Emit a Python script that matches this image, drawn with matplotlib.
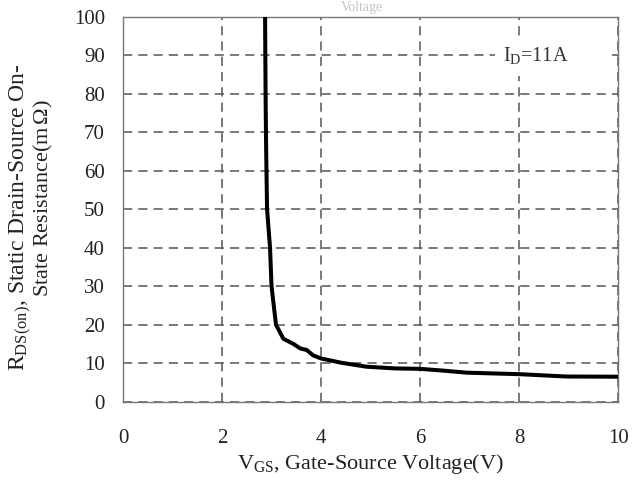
import matplotlib
matplotlib.use("Agg")
import matplotlib.pyplot as plt
from matplotlib.patches import Rectangle

plt.rcParams["font.family"] = ["Liberation Serif", "DejaVu Serif"]
plt.rcParams["mathtext.fontset"] = "custom"
plt.rcParams["mathtext.rm"] = "Liberation Serif"
plt.rcParams["mathtext.it"] = "Liberation Serif:italic"

# On-resistance vs gate-source voltage (ID = 11 A)
vgs = [2.87, 2.88, 2.89, 2.91, 2.97, 3.00, 3.09, 3.24, 3.44, 3.58, 3.71,
       3.84, 4.00, 4.40, 4.92, 5.50, 6.00, 6.50, 6.94, 8.02, 8.96, 10.0]
rds = [100.0, 80.0, 67.0, 50.0, 40.0, 30.0, 20.0, 16.3, 15.0, 13.8, 13.4,
       12.0, 11.2, 10.1, 9.05, 8.6, 8.5, 8.0, 7.5, 7.1, 6.5, 6.45]

x_ticks = [0, 2, 4, 6, 8, 10]
y_ticks = [0, 10, 20, 30, 40, 50, 60, 70, 80, 90, 100]

fig = plt.figure(figsize=(6.32, 4.82), dpi=100)
ax = fig.add_axes([0.1946, 0.167, 0.7834, 0.7977])

ax.plot(vgs, rds, color="black", lw=2.9, solid_capstyle="butt", zorder=3)

ax.set_xlim(0, 10)
ax.set_ylim(0, 100)
ax.set_xticks(x_ticks)
ax.set_yticks(y_ticks)
ax.tick_params(length=0, labelsize=15, labelcolor="#222222")
ax.tick_params(axis="x", pad=20)
ax.tick_params(axis="y", pad=13)

ax.grid(True, color="#555555", lw=1.1, ls=(0, (6, 4)))
for s in ax.spines.values():
    s.set_color("#777777")
    s.set_linewidth(1.0)

# white label box over the grid, with the test-condition note
ax.add_patch(Rectangle((7.52, 84.7), 2.26, 10.1, facecolor="white",
                       edgecolor="none", zorder=2))
ax.text(7.68, 90, "I$_{\\mathrm{D}}$=11A", fontsize=14.5, color="#333333",
        va="center", ha="left", zorder=4)

ax.set_xlabel("V$_{\\mathrm{GS}}$, Gate-Source Voltage(V)", fontsize=16,
              color="#222222", labelpad=3)

fig.text(20.5 / 632, 1 - 217.5 / 482,
         "R$_{\\mathrm{DS(on)}}$, Static Drain-Source On-",
         rotation=90, ha="center", va="center", fontsize=17, color="#222222")
fig.text(43.5 / 632, 1 - 198.5 / 482,
         "State Resistance(m$\\,\\Omega$)",
         rotation=90, ha="center", va="center", fontsize=16, color="#222222")

# second line of the figure title above the frame
fig.text(362 / 632, 1 - 1.5 / 482, "Voltage", ha="center", va="top",
         fontsize=10, color="#c4c4c4")

fig.savefig("out.png", dpi=100)
